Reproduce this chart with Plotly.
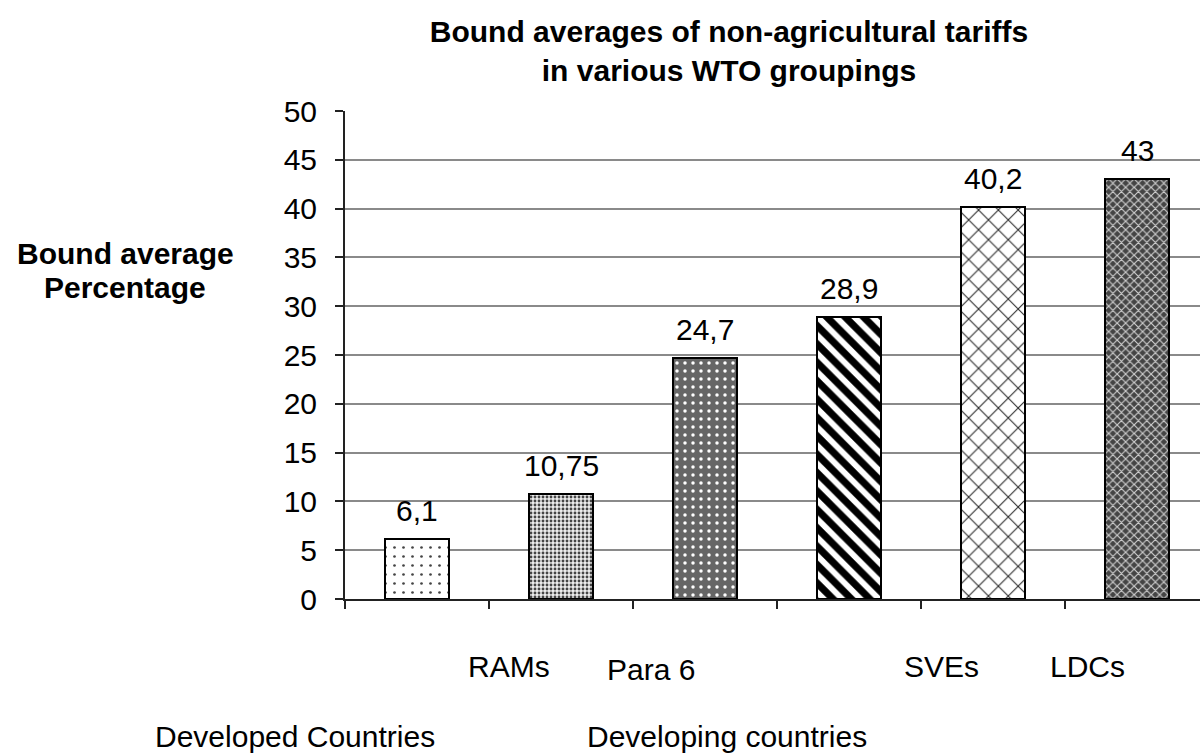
import plotly.graph_objects as go

# ---- data ----
categories = ["Developed Countries", "RAMs", "Para 6", "Developing countries", "SVEs", "LDCs"]
values = [6.1, 10.75, 24.7, 28.9, 40.2, 43]
value_labels = ["6,1", "10,75", "24,7", "28,9", "40,2", "43"]
y_ticks = [0, 5, 10, 15, 20, 25, 30, 35, 40, 45, 50]

title_lines = ["Bound averages of non-agricultural tariffs", "in various WTO groupings"]
ytitle_lines = ["Bound average", "Percentage"]

# ---- styling ----
FONT = "Liberation Sans, Arial, Helvetica, sans-serif"
patterns = [
    dict(shape=".", fgcolor="#444444", bgcolor="white", size=9, solidity=0.07, fgopacity=1),
    dict(shape=".", fgcolor="#444444", bgcolor="#ececec", size=4, solidity=0.4, fgopacity=1),
    dict(shape=".", fgcolor="white", bgcolor="#666666", size=8, solidity=0.15, fgopacity=1),
    dict(shape="\\", fgcolor="black", bgcolor="white", size=13, solidity=0.55, fgopacity=1),
    dict(shape="x", fgcolor="#222222", bgcolor="white", size=14, solidity=0.14, fgopacity=1),
    dict(shape="x", fgcolor="#cfcfcf", bgcolor="#444444", size=6, solidity=0.35, fgopacity=1),
]

X_MIN, X_MAX = -0.5, 5.4375
xs = list(range(len(categories)))

fig = go.Figure()
for i, (c, v) in enumerate(zip(categories, values)):
    fig.add_trace(go.Bar(
        x=[xs[i]], y=[v], width=0.44, name=c,
        marker=dict(color="white", line=dict(color="black", width=2), pattern=patterns[i]),
        showlegend=False, hoverinfo="skip",
    ))

annotations = []
# value labels above bars
for i, (v, t) in enumerate(zip(values, value_labels)):
    annotations.append(dict(x=xs[i], y=v, xref="x", yref="y", text=t, showarrow=False,
                            yanchor="bottom", xanchor="center", yshift=10,
                            font=dict(family=FONT, size=30, color="black")))

# category labels (two-level, Excel-like offset positions)
label_offset = [-0.85, -0.36, -0.375, -0.85, -0.358, -0.347]
label_row_y = [-0.281, -0.138, -0.144, -0.281, -0.138, -0.138]
for i, c in enumerate(categories):
    px = (xs[i] + label_offset[i] - X_MIN) / (X_MAX - X_MIN)
    annotations.append(dict(x=px, y=label_row_y[i], xref="paper", yref="paper", text=c,
                            showarrow=False, xanchor="center", yanchor="middle",
                            font=dict(family=FONT, size=30, color="black")))

# y-axis title (two lines)
for j, (t, yy) in enumerate(zip(ytitle_lines, [0.709, 0.639])):
    annotations.append(dict(x=-0.2573, y=yy, xref="paper", yref="paper", text="<b>%s</b>" % t,
                            showarrow=False, xanchor="center", yanchor="middle",
                            font=dict(family=FONT, size=30, color="black")))

fig.update_layout(
    width=1200, height=755,
    margin=dict(l=345, r=0, t=111, b=156),
    paper_bgcolor="white", plot_bgcolor="white",
    title=dict(text="<b>" + "<br>".join(title_lines) + "</b>",
               x=729 / 1200, xref="container", xanchor="center",
               y=1 - 42 / 755, yref="container", yanchor="middle",
               font=dict(family=FONT, size=30, color="black")),
    xaxis=dict(range=[X_MIN, X_MAX], tickvals=[k - 0.5 for k in range(len(categories) + 1)],
               ticktext=[""] * (len(categories) + 1), ticks="outside", ticklen=8,
               tickcolor="#222222", tickwidth=1.5, showgrid=False, zeroline=False,
               showline=True, linecolor="#222222", linewidth=2, fixedrange=True),
    yaxis=dict(range=[0, 50], tickvals=y_ticks, ticks="outside", ticklen=8,
               tickcolor="#222222", tickwidth=1.5, showgrid=True, gridcolor="#8a8a8a",
               gridwidth=1.5, zeroline=False, showline=True, linecolor="#222222", linewidth=2,
               tickfont=dict(family=FONT, size=30, color="black"), ticklabelstandoff=12,
               fixedrange=True),
    annotations=annotations,
    bargap=0,
)

fig.write_html("out.html", config=dict(displayModeBar=False))
